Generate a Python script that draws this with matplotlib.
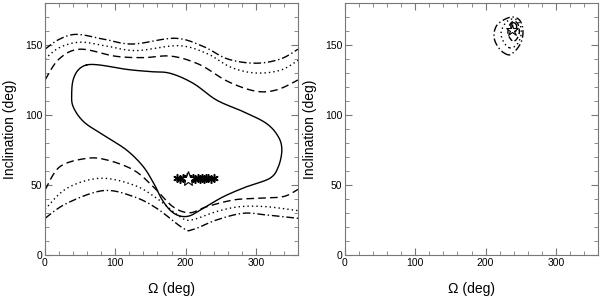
import numpy as np
import matplotlib.pyplot as plt
from matplotlib.ticker import MultipleLocator

plt.rcParams['font.family'] = ['Liberation Sans', 'DejaVu Sans']

# left panel contours (Omega, inclination)
solid_x = [59, 78, 116, 149, 178, 211, 244, 282, 315, 332, 337, 332, 320, 287, 254, 225, 206, 191, 178, 166, 156, 140, 116, 83, 55, 40, 38, 40, 47, 59]
solid_y = [135.7, 135.7, 132.6, 131, 129.8, 122.6, 110.7, 102.4, 94, 84.5, 75, 63, 54.8, 48.8, 41.7, 33.3, 28, 28, 32, 40, 50, 63, 75, 85.7, 95.2, 106, 115.5, 125, 132, 135.7]

dash_up_x = [0, 20, 50, 100, 140, 180, 220, 260, 300, 330, 360]
dash_up_y = [125, 140, 147, 142, 141, 142, 136, 124, 117, 118, 125]
dot_up_x = [0, 20, 50, 90, 130, 190, 230, 265, 300, 335, 360]
dot_up_y = [140, 148, 152, 149, 146, 149.5, 144, 134, 130, 132, 139]
dd_up_x = [0, 20, 45, 85, 125, 185, 225, 260, 300, 335, 360]
dd_up_y = [147, 154, 157.6, 154, 150.7, 154.8, 149, 140, 137, 140, 147]

dash_lo_x = [0, 21, 59, 88, 126, 154, 182, 206, 230, 268, 301, 339, 360]
dash_lo_y = [46.4, 63, 69, 67.9, 60.7, 48.8, 34.5, 30.2, 34.5, 39.3, 40.5, 41.7, 46.9]
dot_lo_x = [0, 31, 78, 126, 159, 192, 208, 244, 277, 315, 360]
dot_lo_y = [32.6, 47.6, 54.8, 50, 40.5, 27.4, 25, 31, 34.5, 34.5, 31.7]
dd_lo_x = [0, 31, 83, 126, 159, 197, 211, 244, 282, 315, 360]
dd_lo_y = [26.2, 36.9, 46, 41.7, 33.3, 19, 18.3, 25, 29.8, 28.6, 26.2]

stars_x = [188, 192, 196, 199, 202, 208, 211, 214, 217, 220, 223, 226, 229, 232, 236, 241]
stars_y = [55, 54.5, 55, 54, 55.5, 54.5, 55, 54, 55, 54.5, 55, 54.5, 55, 55, 54.5, 55]
best_left = (204, 54.5)

# right panel contours
r_dd_x = [232, 222, 214, 212, 216, 226, 238, 248, 253, 252, 246, 238, 232]
r_dd_y = [143, 146, 152, 158, 164, 168, 170, 168, 162, 154, 148, 144, 143]
r_dot_x = [234, 226, 222, 226, 234, 244, 250, 250, 244, 234]
r_dot_y = [148, 152, 158, 164, 168, 168, 163, 156, 150, 148]
r_dash_x = [238, 232, 234, 240, 246, 248, 244, 238]
r_dash_y = [153, 158, 164, 167, 165, 159, 154, 153]
r_sol_x = [238, 236, 240, 244, 243, 238]
r_sol_y = [160, 164, 166, 164, 160, 160]
best_right = (238, 161)


def smooth(x, y, closed=False, n=12):
    # catmull-rom through the read points
    p = np.column_stack([x, y]).astype(float)
    if closed:
        p = p[:-1]
        p = np.vstack([p[-1], p, p[0], p[1]])
    else:
        p = np.vstack([p[0], p, p[-1]])
    out = []
    for i in range(1, len(p) - 2):
        p0, p1, p2, p3 = p[i - 1], p[i], p[i + 1], p[i + 2]
        for t in np.linspace(0, 1, n, endpoint=False):
            out.append(0.5 * ((2 * p1) + (-p0 + p2) * t + (2 * p0 - 5 * p1 + 4 * p2 - p3) * t ** 2
                              + (-p0 + 3 * p1 - 3 * p2 + p3) * t ** 3))
    out.append(p[-2])
    out = np.array(out)
    return out[:, 0], out[:, 1]


fig = plt.figure(figsize=(6, 3.01), dpi=100)
axl = fig.add_axes([45 / 600, 46 / 301, 253 / 600, 252 / 301])
axr = fig.add_axes([345 / 600, 46 / 301, 253 / 600, 252 / 301])

lw = 1.0
dash = (0, (5.5, 3))
dot = (0, (1, 2.2))
dd = (0, (5.5, 2, 1, 2))
axl.plot(*smooth(solid_x, solid_y, closed=True), color='k', lw=lw)
axl.plot(*smooth(dash_up_x, dash_up_y), color='k', lw=lw, ls=dash)
axl.plot(*smooth(dash_lo_x, dash_lo_y), color='k', lw=lw, ls=dash)
axl.plot(*smooth(dot_up_x, dot_up_y), color='k', lw=lw, ls=dot)
axl.plot(*smooth(dot_lo_x, dot_lo_y), color='k', lw=lw, ls=dot)
axl.plot(*smooth(dd_up_x, dd_up_y), color='k', lw=lw, ls=dd)
axl.plot(*smooth(dd_lo_x, dd_lo_y), color='k', lw=lw, ls=dd)
axl.plot(stars_x, stars_y, ls='none', marker=(6, 2, 0), ms=6, color='k', mew=1.1)
axl.plot(*best_left, marker='*', ms=11, mfc='white', mec='k', mew=0.8, zorder=5)

axr.plot(*smooth(r_dd_x, r_dd_y, closed=True), color='k', lw=lw, ls=dd)
axr.plot(*smooth(r_dot_x, r_dot_y, closed=True), color='k', lw=lw, ls=dot)
axr.plot(*smooth(r_dash_x, r_dash_y, closed=True), color='k', lw=lw, ls=(0, (4, 2)))
axr.plot(*smooth(r_sol_x, r_sol_y, closed=True), color='k', lw=lw)
axr.plot(*best_right, marker='*', ms=9, mfc='white', mec='k', mew=0.8, zorder=5)

for ax in (axl, axr):
    ax.set_xlim(0, 360)
    ax.set_ylim(0, 180)
    ax.xaxis.set_major_locator(MultipleLocator(100))
    ax.xaxis.set_minor_locator(MultipleLocator(20))
    ax.yaxis.set_major_locator(MultipleLocator(50))
    ax.yaxis.set_minor_locator(MultipleLocator(10))
    ax.tick_params(which='both', direction='in', top=True, right=True, color='#777777',
                   labelsize=7.5, pad=2)
    ax.tick_params(which='major', length=5, width=0.8)
    ax.tick_params(which='minor', length=3, width=0.6)
    for s in ax.spines.values():
        s.set_color('#777777')
        s.set_linewidth(0.8)
    ax.set_xlabel('Ω (deg)', fontsize=10, labelpad=10)
    ax.set_ylabel('Inclination (deg)', fontsize=10, labelpad=6)

fig.savefig('out.png', dpi=100)
